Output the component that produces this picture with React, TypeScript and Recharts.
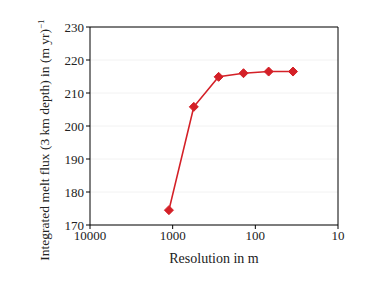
import React from "react";
import {
  LineChart,
  Line,
  XAxis,
  YAxis,
  CartesianGrid,
  ReferenceLine,
} from "recharts";

const resolutions = [1110, 555, 278, 139, 69, 35];
const meltFlux = [174.5, 205.8, 214.9, 216.0, 216.5, 216.5];
const xTicks = [10000, 1000, 100, 10];
const yTicks = [170, 180, 190, 200, 210, 220, 230];

const data = resolutions.map((r, i) => ({ res: r, flux: meltFlux[i] }));

const RED = "#d42027";
const FONT = "'Liberation Serif', 'DejaVu Serif', serif";

const Diamond = (props: any) => {
  const { cx, cy } = props;
  if (cx == null || cy == null) return null;
  const s = 4.5;
  return (
    <path
      d={`M${cx},${cy - s} L${cx + s},${cy} L${cx},${cy + s} L${cx - s},${cy} Z`}
      fill={RED}
      stroke={RED}
    />
  );
};

const YLabel = () => (
  <text
    x={0}
    y={0}
    transform="translate(49,140) rotate(-90)"
    textAnchor="middle"
    fontFamily={FONT}
    fontSize={13.5}
    fill="#222"
  >
    Integrated melt flux (3 km depth) in (m yr)
    <tspan dy={-5} fontSize={9}>
      −1
    </tspan>
  </text>
);

export default function App() {
  return (
    <div style={{ position: "absolute", left: 0, top: 0, background: "#fff" }}>
      <LineChart
        width={374}
        height={299}
        data={data}
        margin={{ top: 27, right: 36, bottom: 0, left: 0 }}
      >
        <CartesianGrid horizontal vertical={false} stroke="#f2f2f2" />
        <XAxis
          dataKey="res"
          type="number"
          scale="log"
          domain={[10, 10000]}
          reversed
          ticks={xTicks}
          allowDataOverflow
          height={74}
          stroke="#000"
          tickLine={{ stroke: "#000" }}
          tickSize={4}
          tick={{ fontSize: 13, fill: "#222", fontFamily: FONT }}
          label={{
            value: "Resolution in m",
            position: "insideBottom",
            offset: 36,
            fontSize: 14,
            fill: "#222",
            fontFamily: FONT,
          }}
        />
        <YAxis
          type="number"
          domain={[170, 230]}
          ticks={yTicks}
          width={90}
          stroke="#000"
          tickSize={4}
          tick={{ fontSize: 13, fill: "#222", fontFamily: FONT }}
          label={<YLabel />}
        />
        <ReferenceLine y={230} stroke="#000" />
        <ReferenceLine x={10} stroke="#000" />
        <Line
          dataKey="flux"
          stroke={RED}
          strokeWidth={1.6}
          dot={<Diamond />}
          isAnimationActive={false}
        />
      </LineChart>
    </div>
  );
}
